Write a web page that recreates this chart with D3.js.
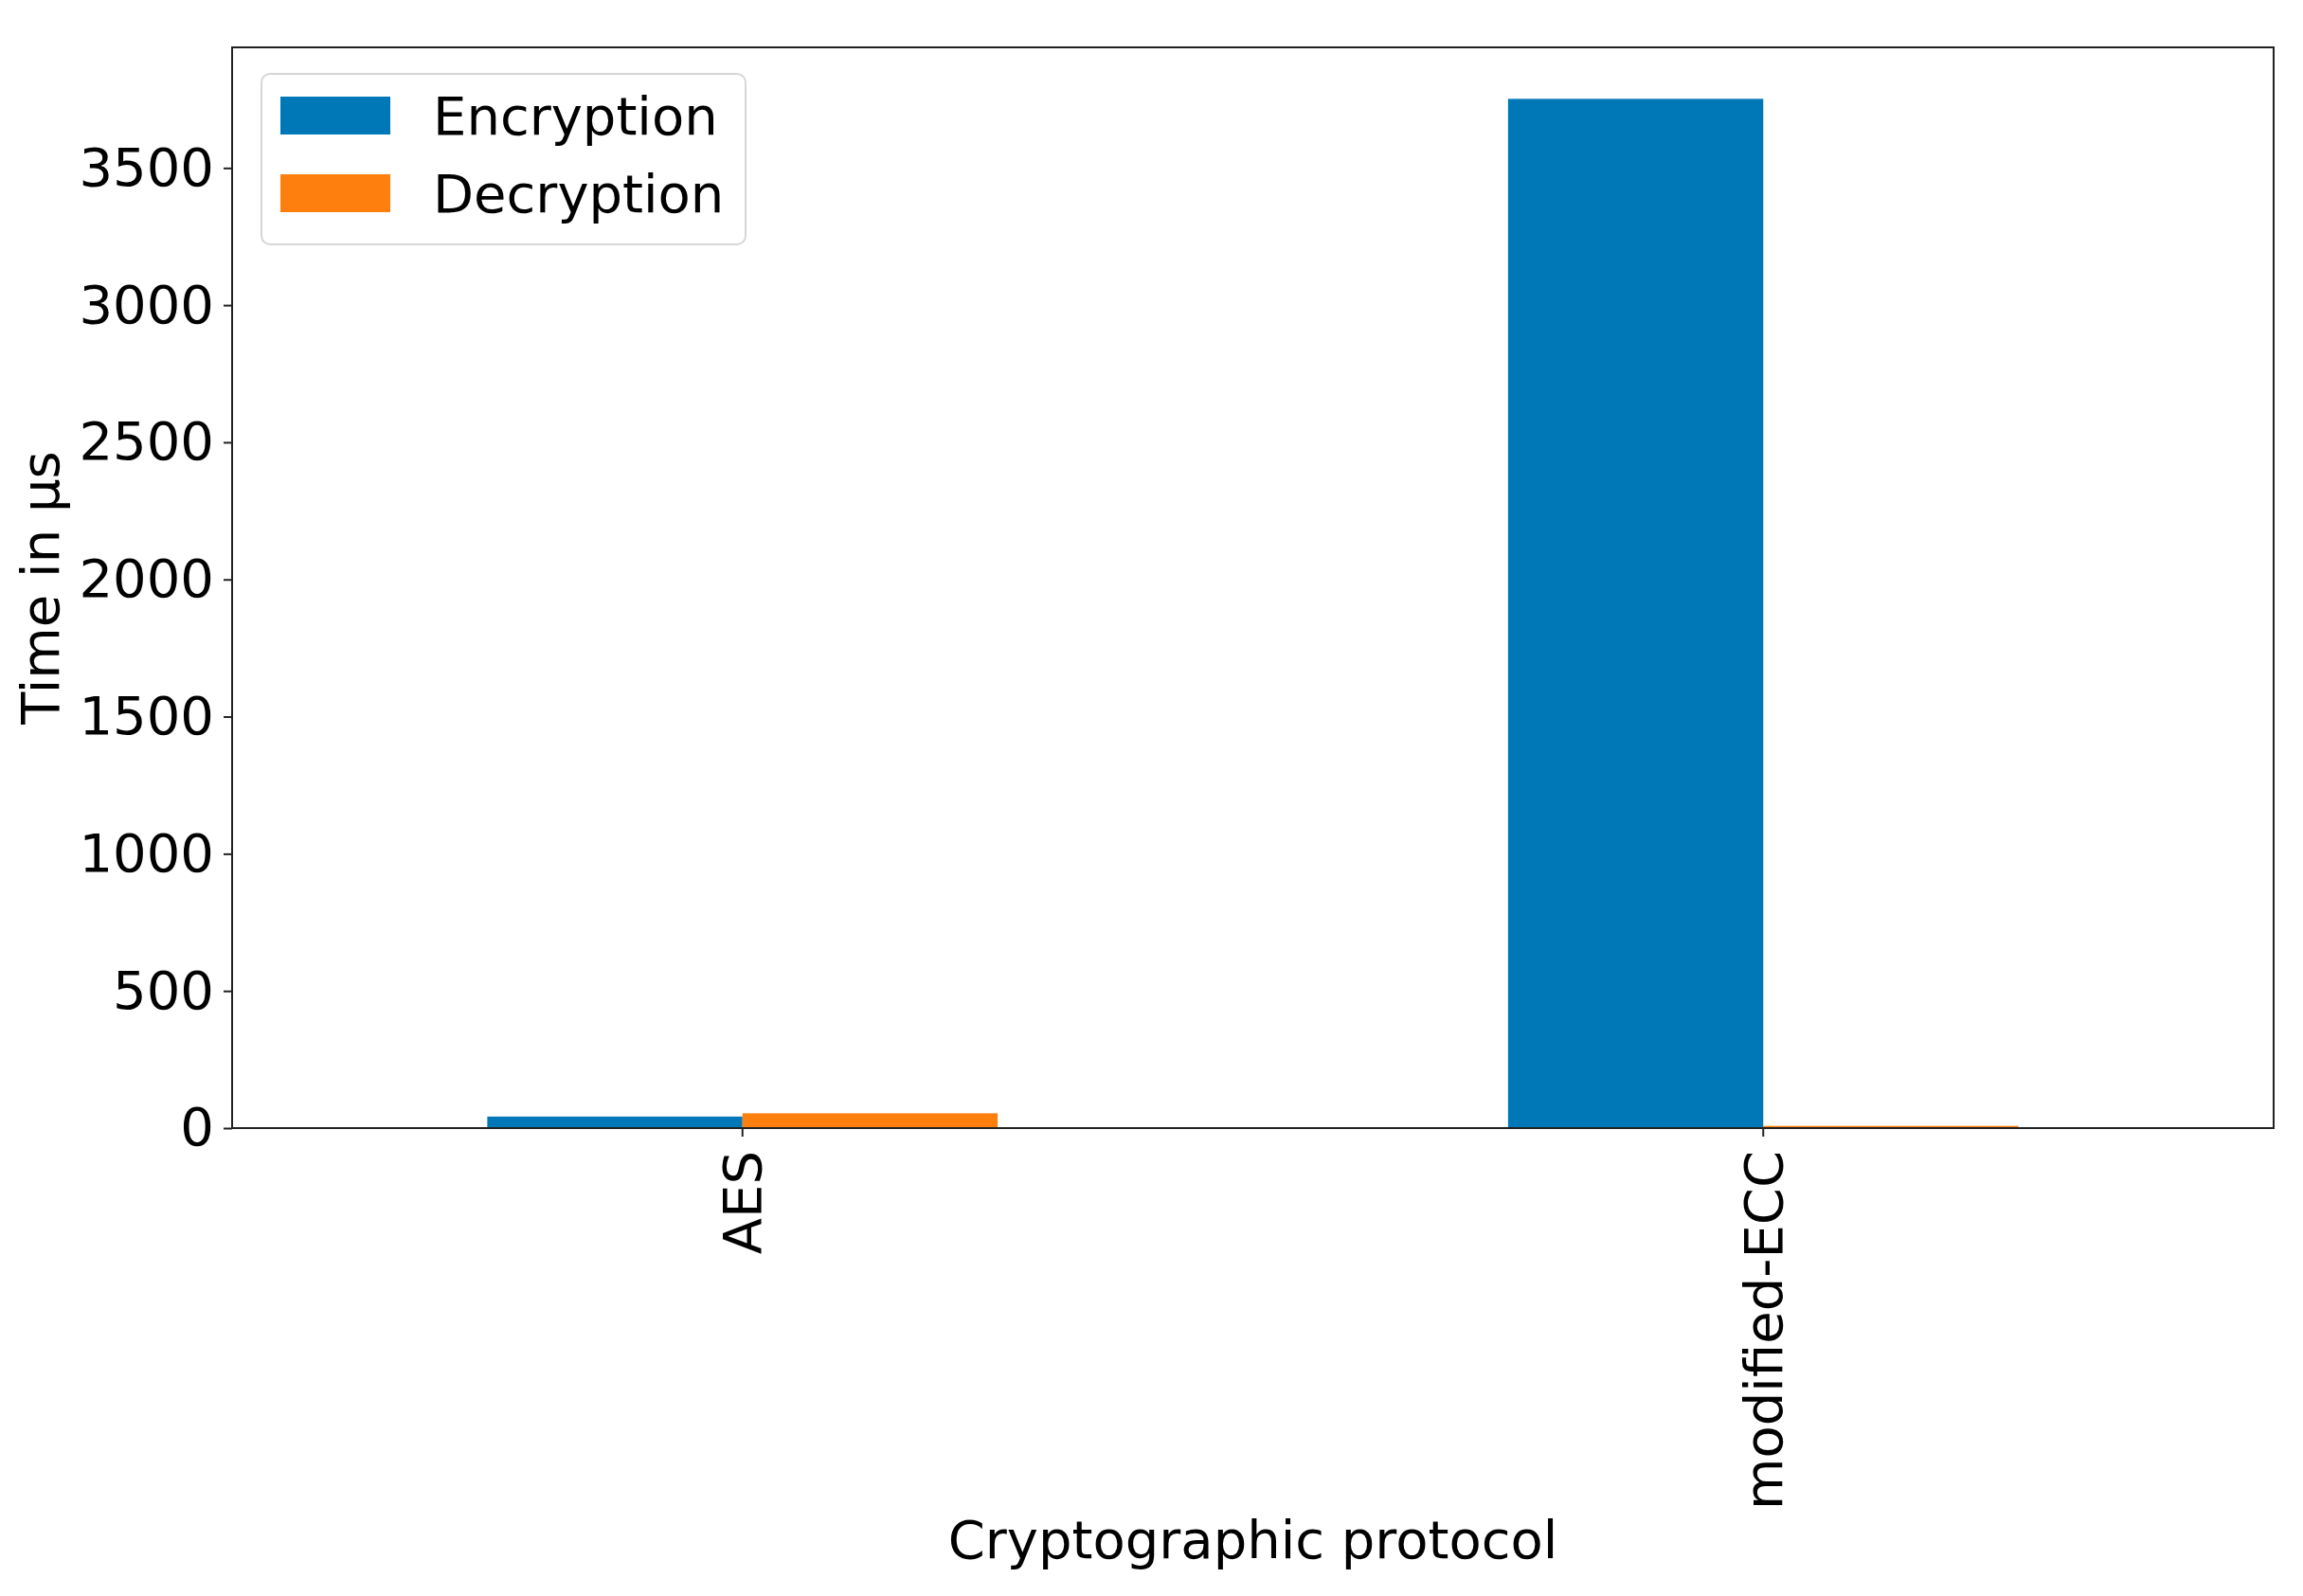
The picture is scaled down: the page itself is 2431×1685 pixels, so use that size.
<!DOCTYPE html>
<html>
<head>
<meta charset="utf-8">
<script src="https://cdn.jsdelivr.net/npm/d3@7"></script>
<style>
  body { margin: 0; background: #fff; }
  text { font-family: "DejaVu Sans", sans-serif; fill: #000; }
</style>
</head>
<body>
<div id="vis"></div>
<script>
// values (microseconds)
let protocols = ["AES", "modified-ECC"]
let series = ["Encryption", "Decryption"]
let encryption = [42, 3752]
let decryption = [54, 8]
let yTicks = [0, 500, 1000, 1500, 2000, 2500, 3000, 3500]
let colors = ["#0077b7", "#ff7f0e"]

let width = 2431, height = 1685
let m = {left: 245, right: 2400, top: 50, bottom: 1191}
let fs = 56

let svg = d3.select("#vis").append("svg")
    .attr("width", width)
    .attr("height", height)

let x = d3.scaleBand()
    .domain(protocols)
    .range([m.left, m.right])
    .paddingInner(0.5)
    .paddingOuter(0.25)

let xs = d3.scaleBand()
    .domain(series)
    .range([0, x.bandwidth()])

let y = d3.scaleLinear()
    .domain([0, d3.max(encryption.concat(decryption)) * 1.05])
    .range([m.bottom, m.top])

let color = d3.scaleOrdinal().domain(series).range(colors)

let rows = protocols.map((p, i) => ({p: p, vals: [
    {s: "Encryption", v: encryption[i]},
    {s: "Decryption", v: decryption[i]}
]}))

// bars
svg.append("g")
  .selectAll("g")
  .data(rows)
  .join("g")
    .attr("transform", d => `translate(${x(d.p)},0)`)
  .selectAll("rect")
  .data(d => d.vals)
  .join("rect")
    .attr("x", d => xs(d.s))
    .attr("width", xs.bandwidth())
    .attr("y", d => y(d.v))
    .attr("height", d => y(0) - y(d.v))
    .attr("fill", d => color(d.s))

// y axis
let yAxis = svg.append("g")
    .attr("transform", `translate(${m.left},0)`)
    .call(d3.axisLeft(y).tickValues(yTicks).tickSize(9).tickPadding(10).tickFormat(d3.format("d")))
yAxis.select(".domain").remove()
yAxis.selectAll(".tick line").attr("stroke", "#222").attr("stroke-width", 2)
yAxis.selectAll(".tick text")
    .attr("font-size", fs)
    .attr("font-family", "DejaVu Sans")

// x axis
let xAxis = svg.append("g")
    .attr("transform", `translate(0,${m.bottom})`)
    .call(d3.axisBottom(x).tickSize(9).tickPadding(0))
xAxis.select(".domain").remove()
xAxis.selectAll(".tick line").attr("stroke", "#222").attr("stroke-width", 2)
xAxis.selectAll(".tick text")
    .attr("font-size", fs)
    .attr("font-family", "DejaVu Sans")
    .attr("text-anchor", "end")
    .attr("y", 0)
    .attr("dy", "0.35em")
    .attr("transform", "translate(0,24) rotate(-90)")

// frame
svg.append("rect")
    .attr("x", m.left)
    .attr("y", m.top)
    .attr("width", m.right - m.left)
    .attr("height", m.bottom - m.top)
    .attr("fill", "none")
    .attr("stroke", "#222")
    .attr("stroke-width", 2)

// axis titles
svg.append("text")
    .attr("transform", `translate(62,${(m.top + m.bottom) / 2}) rotate(-90)`)
    .attr("text-anchor", "middle")
    .attr("font-size", fs)
    .text("Time in μs")

svg.append("text")
    .attr("x", (m.left + m.right) / 2)
    .attr("y", 1645)
    .attr("text-anchor", "middle")
    .attr("font-size", fs)
    .text("Cryptographic protocol")

// legend
let lg = svg.append("g")
lg.append("rect")
    .attr("x", 276)
    .attr("y", 78)
    .attr("width", 511)
    .attr("height", 180)
    .attr("rx", 9)
    .attr("fill", "#fff")
    .attr("fill-opacity", 0.8)
    .attr("stroke", "#d6d6d6")
    .attr("stroke-width", 2)

let item = lg.selectAll("g.item")
  .data(series)
  .join("g")
    .attr("class", "item")
    .attr("transform", (d, i) => `translate(296,${102 + i * 82})`)
item.append("rect")
    .attr("width", 116)
    .attr("height", 40)
    .attr("fill", d => color(d))
item.append("text")
    .attr("x", 161)
    .attr("y", 20)
    .attr("dy", "0.35em")
    .attr("font-size", fs)
    .text(d => d)
</script>
</body>
</html>
